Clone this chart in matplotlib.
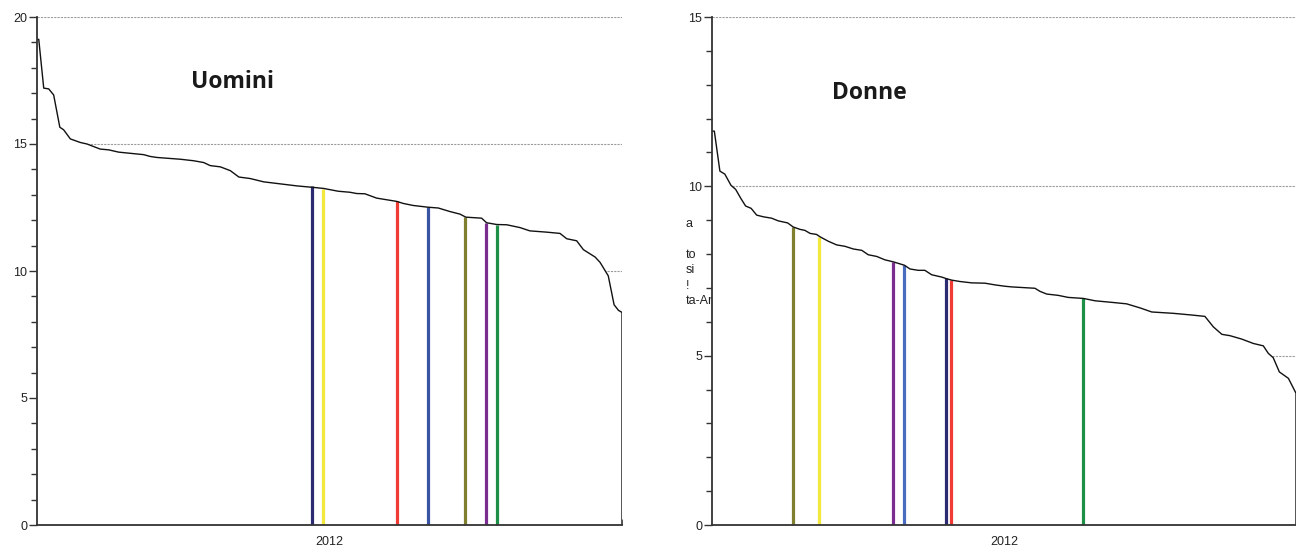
import numpy as np
import matplotlib
matplotlib.use("Agg")
import matplotlib.pyplot as plt
from matplotlib.ticker import MultipleLocator, FixedLocator

# ranked regions, rank position (0-100) and value
men_rank = [0.0, 0.3, 1.15, 2.0, 2.85, 3.9, 4.55, 5.7, 7.4, 8.55, 10.8, 12.25, 13.95,
            18.25, 19.35, 20.5, 24.5, 26.8, 28.5, 29.6, 31.35, 33.05, 34.5, 36.45,
            38.75, 41.6, 44.45, 47.3, 49.0, 51.5, 53.5, 54.65, 56.05, 58.05, 61.5,
            62.6, 64.3, 66.9, 68.6, 70.6, 72.3, 73.3, 76.0, 76.85, 78.6, 80.3, 82.55,
            84.25, 87.1, 89.4, 90.55, 92.25, 93.4, 95.4, 96.25, 97.65, 98.65, 99.4, 100.0]
men_vals = [19.12, 19.12, 17.20, 17.17, 16.93, 15.66, 15.56, 15.20, 15.06, 15.00, 14.80,
            14.77, 14.68, 14.58, 14.51, 14.47, 14.40, 14.34, 14.27, 14.15, 14.10, 13.95,
            13.70, 13.64, 13.51, 13.43, 13.35, 13.29, 13.25, 13.14, 13.10, 13.05, 13.04,
            12.87, 12.74, 12.66, 12.58, 12.51, 12.48, 12.34, 12.24, 12.12, 12.08, 11.90,
            11.83, 11.82, 11.71, 11.58, 11.53, 11.48, 11.27, 11.19, 10.84, 10.55, 10.34,
            9.81, 8.67, 8.45, 8.37]

women_rank = [0.0, 0.4, 1.35, 2.2, 3.25, 4.05, 4.95, 5.75, 6.7, 7.65, 8.8, 10.2, 11.35,
              12.95, 13.9, 15.05, 15.9, 16.8, 17.9, 18.5, 19.9, 21.35, 22.75, 24.2, 25.65,
              26.75, 28.2, 29.6, 31.05, 32.95, 33.9, 35.3, 36.45, 37.6, 39.35, 40.2, 41.05,
              42.45, 44.45, 46.75, 48.45, 50.15, 51.35, 55.3, 56.15, 57.3, 59.3, 61.0,
              63.6, 65.6, 68.7, 71.0, 73.3, 75.3, 79.0, 82.15, 84.4, 85.85, 87.3, 88.7,
              90.7, 92.7, 94.4, 95.25, 96.1, 97.15, 98.7, 100.0]
women_vals = [11.63, 11.63, 10.45, 10.36, 10.03, 9.91, 9.64, 9.42, 9.35, 9.15, 9.10, 9.06,
              8.98, 8.92, 8.80, 8.73, 8.70, 8.61, 8.58, 8.51, 8.38, 8.27, 8.23, 8.15, 8.11,
              7.98, 7.93, 7.83, 7.77, 7.67, 7.56, 7.52, 7.52, 7.39, 7.32, 7.27, 7.23, 7.19,
              7.15, 7.14, 7.09, 7.05, 7.03, 6.99, 6.90, 6.82, 6.78, 6.72, 6.69, 6.62, 6.57,
              6.53, 6.41, 6.29, 6.25, 6.20, 6.16, 5.85, 5.63, 5.59, 5.49, 5.36, 5.29, 5.07,
              4.94, 4.52, 4.33, 3.89]

# highlighted regions
men_hl_rank = [47.05, 48.85, 61.5, 66.9, 73.2, 76.8, 78.6]
men_hl_vals = [13.33, 13.24, 12.76, 12.51, 12.13, 11.89, 11.82]
men_hl_colors = ['#2c2b72', '#f3e93c', '#ef3b33', '#3a54a4', '#807f30', '#7b2c8f', '#1e8f47']

women_hl_rank = [13.9, 18.35, 31.05, 32.9, 40.05, 41.0, 63.6]
women_hl_vals = [8.81, 8.49, 7.77, 7.68, 7.30, 7.23, 6.69]
women_hl_colors = ['#807f30', '#f3e93c', '#7b2c8f', '#4a6cc0', '#2c2b72', '#ef3b33', '#1e8f47']

year_label = '2012'
cut_labels = ['a', 'to', 'si', '!', 'ta-Ar']
cut_label_y = [224, 255, 270, 286, 301]  # pixel rows


def draw_panel(ax, rank, vals, hl_rank, hl_vals, hl_colors, ymax, title, title_xy):
    rank = np.asarray(rank)
    vals = np.asarray(vals)
    ax.set_xlim(0, 100)
    ax.set_ylim(0, ymax)
    ax.yaxis.set_major_locator(MultipleLocator(5))
    ax.yaxis.set_minor_locator(MultipleLocator(1))
    ax.set_axisbelow(True)
    ax.grid(axis='y', which='major', color='#9c9c9c', lw=0.8, ls=(0, (2, 1)))

    # area under the curve in white hides the gridlines
    ax.fill_between(rank, 0, vals, facecolor='white', edgecolor='none', zorder=1)
    ax.vlines(hl_rank, 0, hl_vals, colors=hl_colors, lw=2.3, zorder=2)
    ax.plot(np.r_[rank, rank[-1]], np.r_[vals, 0], color='#111111', lw=1.0, zorder=3)

    for s in ['top', 'right']:
        ax.spines[s].set_visible(False)
    for s in ['left', 'bottom']:
        ax.spines[s].set_color('#333333')
        ax.spines[s].set_linewidth(1.3)
        ax.spines[s].set_zorder(4)

    ax.set_xticks([50])
    ax.set_xticklabels([year_label])
    ax.xaxis.set_minor_locator(FixedLocator([100]))
    ax.tick_params(axis='x', which='major', length=0, pad=8, labelsize=9, labelcolor='#222222')
    ax.tick_params(axis='x', which='minor', length=4, direction='in', color='#333333')
    ax.tick_params(axis='y', which='major', length=6, width=1.0, color='#333333',
                   labelsize=9, labelcolor='#222222', pad=1)
    ax.tick_params(axis='y', which='minor', length=4, width=1.0, color='#333333')
    for lab in ax.get_xticklabels() + ax.get_yticklabels():
        lab.set_family('Liberation Sans')

    ax.text(title_xy[0], title_xy[1], title, ha='center', va='center',
            fontsize=16.5, fontweight='bold', family='Open Sans', color='#1a1a1a')


fig = plt.figure(figsize=(12.96, 5.52), dpi=100)
W, H = 1296, 552
ax1 = fig.add_axes([37 / W, 1 - 525 / H, 585 / W, 508 / H])
ax2 = fig.add_axes([712 / W, 1 - 525 / H, 584 / W, 508 / H])

draw_panel(ax1, men_rank, men_vals, men_hl_rank, men_hl_vals, men_hl_colors,
           20, 'Uomini', (33.5, 17.45))
draw_panel(ax2, women_rank, women_vals, women_hl_rank, women_hl_vals, women_hl_colors,
           15, 'Donne', (27.0, 12.75))

# leftover legend text cut by the right panel
for lab, py in zip(cut_labels, cut_label_y):
    fig.text(686 / W, 1 - py / H, lab, ha='left', va='center', fontsize=9,
             family='Liberation Sans', color='#222222', zorder=-1)

fig.savefig('out.png', dpi=100)
